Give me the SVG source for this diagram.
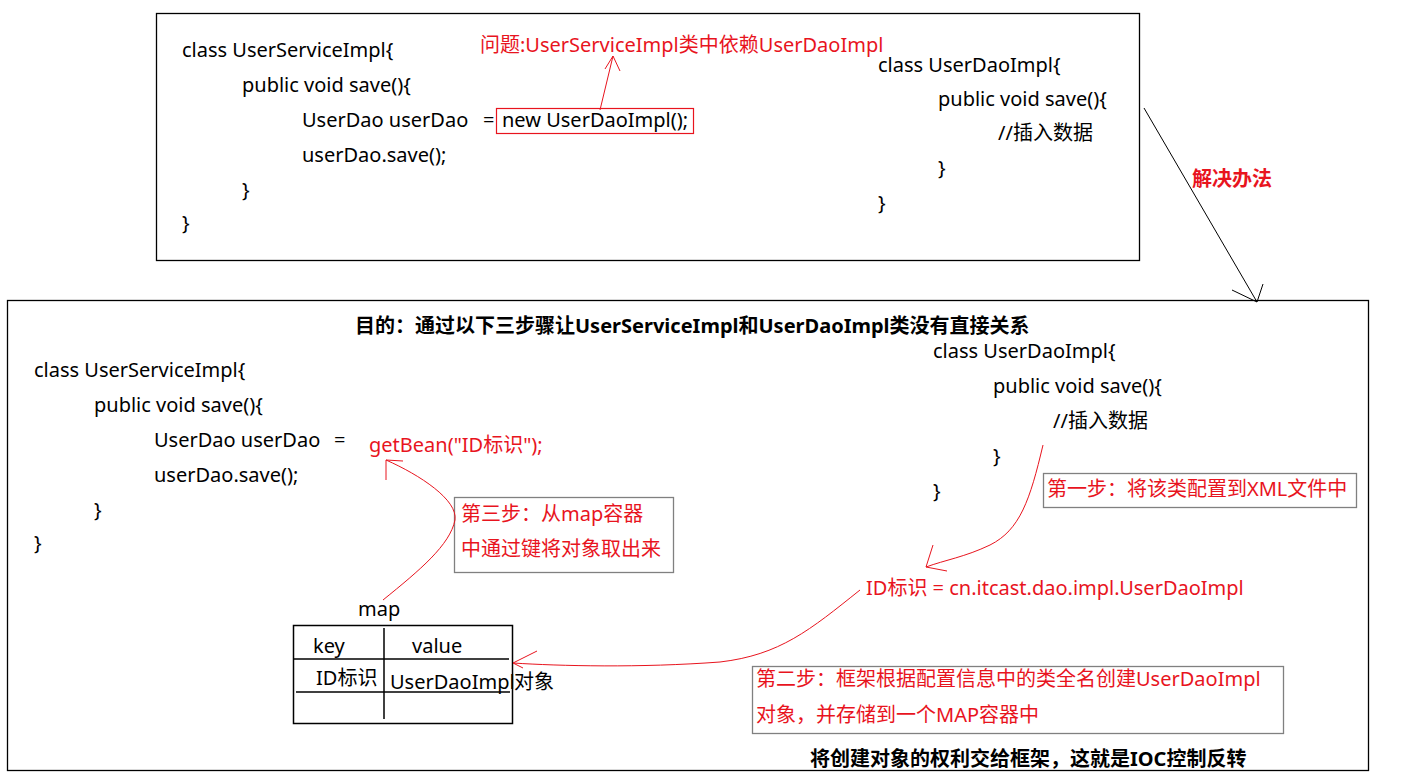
<svg xmlns="http://www.w3.org/2000/svg" width="1406" height="779" viewBox="0 0 1406 779">
<style>
text{font-family:"Noto Sans","Noto Sans CJK SC",sans-serif;font-size:20px;fill:#000}
.r{fill:#e8141e}
.b{font-weight:bold;font-size:20px}
.frame{fill:none;stroke:#000;stroke-width:1.3}
.gbox{fill:none;stroke:#808080;stroke-width:1.3}
.rbox{fill:none;stroke:#e8141e;stroke-width:1.2}
.rl{fill:none;stroke:#e8141e;stroke-width:1}
.bl{fill:none;stroke:#000;stroke-width:1}
.tl{stroke:#000;stroke-width:1.5}
</style>
<rect width="1406" height="779" fill="#fff"/>
<g id="top-frame">
<rect class="frame" x="156.5" y="13.5" width="983" height="247"/>
</g>
<g id="top-service">
<text x="182" y="57">class UserServiceImpl{</text>
<text x="242" y="92">public void save(){</text>
<text x="302" y="127">UserDao userDao</text>
<text x="483" y="127">=</text>
<rect class="rbox" x="496.5" y="108.5" width="197" height="25"/>
<text x="502" y="127">new UserDaoImpl();</text>
<text x="302" y="162">userDao.save();</text>
<text x="242" y="197">}</text>
<text x="182" y="230">}</text>
</g>
<g id="problem">
<text class="r" x="480" y="52">问题:UserServiceImpl类中依赖UserDaoImpl</text>
</g>
<g id="top-dao">
<text x="878" y="72">class UserDaoImpl{</text>
<text x="938" y="106">public void save(){</text>
<text x="998" y="140">//插入数据</text>
<text x="938" y="175">}</text>
<text x="878" y="210">}</text>
</g>
<g id="solution">
<text class="r" x="1192" y="186" style="font-weight:bold">解决办法</text>
</g>
<g id="bottom-frame">
<rect class="frame" x="7.5" y="300.5" width="1361" height="470"/>
</g>
<g id="goal">
<text class="b" x="355" y="333">目的：通过以下三步骤让UserServiceImpl和UserDaoImpl类没有直接关系</text>
</g>
<g id="bottom-service">
<text x="34" y="377">class UserServiceImpl{</text>
<text x="94" y="412">public void save(){</text>
<text x="154" y="447">UserDao userDao</text>
<text x="334" y="447">=</text>
<text class="r" x="369" y="452">getBean("ID标识");</text>
<text x="154" y="482">userDao.save();</text>
<text x="94" y="517">}</text>
<text x="34" y="550">}</text>
</g>
<g id="bottom-dao">
<text x="933" y="358">class UserDaoImpl{</text>
<text x="993" y="393">public void save(){</text>
<text x="1053" y="428">//插入数据</text>
<text x="993" y="463">}</text>
<text x="933" y="498">}</text>
</g>
<g id="step1">
<rect class="gbox" x="1043.5" y="473.5" width="313" height="34"/>
<text class="r" x="1047" y="496">第一步：将该类配置到XML文件中</text>
</g>
<g id="id-config">
<text class="r" x="866" y="595">ID标识 = cn.itcast.dao.impl.UserDaoImpl</text>
</g>
<g id="step2">
<rect class="gbox" x="752.5" y="666.5" width="531" height="67"/>
<text class="r" x="756" y="686">第二步：框架根据配置信息中的类全名创建UserDaoImpl</text>
<text class="r" x="756" y="722">对象，并存储到一个MAP容器中</text>
</g>
<g id="step3">
<rect class="gbox" x="454.5" y="497.5" width="219" height="75"/>
<text class="r" x="461" y="521">第三步：从map容器</text>
<text class="r" x="461" y="556">中通过键将对象取出来</text>
</g>
<g id="ioc">
<text class="b" x="810" y="766">将创建对象的权利交给框架，这就是IOC控制反转</text>
</g>
<g id="map">
<text x="358" y="616">map</text>
<rect x="293.5" y="625.5" width="219" height="98" fill="none" stroke="#000" stroke-width="1.5"/>
<line class="tl" x1="384" y1="628" x2="384" y2="719"/>
<line class="tl" x1="293" y1="659" x2="509" y2="659"/>
<line class="tl" x1="296" y1="692" x2="510" y2="692"/>
<text x="313" y="653">key</text>
<text x="412" y="653">value</text>
<text x="316" y="685">ID标识</text>
<text x="390" y="689">UserDaoImpl</text>
<text x="514" y="689">对象</text>
</g>
<g id="connectors">
<path class="rl" d="M600 110 L613 56 M605 69 L613 56 L620 71"/>
<path class="bl" d="M1144 108 L1257 302 M1232 290 L1257 302 L1263 284"/>
<path class="rl" d="M1043 445 C1030 500 1020 530 990 545 C965 557 945 560 926 567 M933 545 L926 567 L947 571"/>
<path class="rl" d="M860 590 C810 630 780 655 720 662 C640 668 560 666 513 663 M537 651 L513 663 L523 668"/>
<path class="rl" d="M383 600 C420 570 450 545 455 520 C458 500 420 475 386 460 M403 461 L386 460 L386 480"/>
</g>
</svg>
